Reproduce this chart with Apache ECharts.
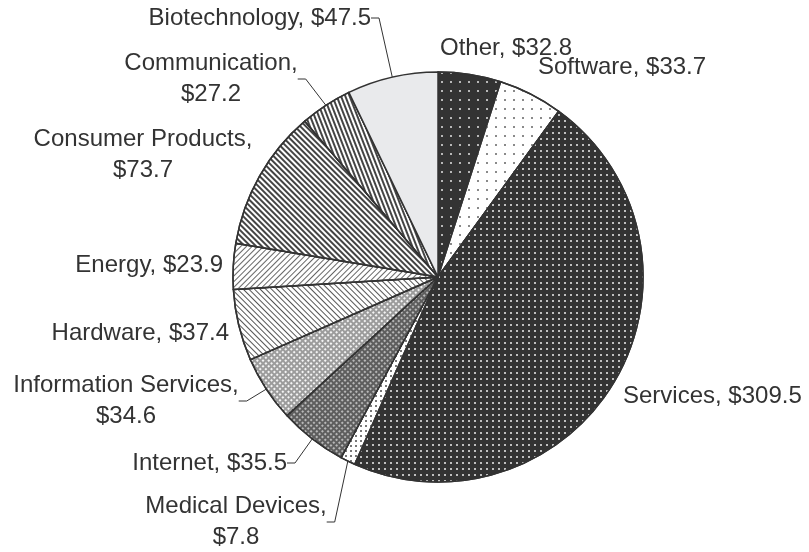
<!DOCTYPE html>
<html>
<head>
<meta charset="utf-8">
<script src="https://cdn.jsdelivr.net/npm/echarts@6/dist/echarts.min.js"></script>
<style>
  html, body { margin: 0; padding: 0; background: #fff; }
  #myChart { width: 809px; height: 552px; }
</style>
</head>
<body>
<div id="myChart"></div>
<script>
  // sectors, clockwise from 12 o'clock
  var categories = ['Other', 'Software', 'Services', 'Medical Devices', 'Internet',
    'Information Services', 'Hardware', 'Energy', 'Consumer Products', 'Communication', 'Biotechnology'];
  var values = [32.8, 33.7, 309.5, 7.8, 35.5, 34.6, 37.4, 23.9, 73.7, 27.2, 47.5];
  // label text, some wrapped on two lines
  var labelTexts = ['Other, $32.8', 'Software, $33.7', 'Services, $309.5', 'Medical Devices,\n$7.8',
    'Internet, $35.5', 'Information Services,\n$34.6', 'Hardware, $37.4', 'Energy, $23.9',
    'Consumer Products,\n$73.7', 'Communication,\n$27.2', 'Biotechnology, $47.5'];

  // where each label sits (x, y, align) and whether it has a leader line
  var labelPos = [
    [440, 48, 'left'], [538, 67, 'left'], [623, 396, 'left'], [236, 522, 'center'],
    [287, 463, 'right'], [126, 401, 'center'], [229, 333, 'right'], [223, 265, 'right'],
    [143, 155, 'center'], [211, 79, 'center'], [371, 18, 'right']
  ];
  var withLine = [false, false, false, true, true, true, false, false, false, true, true];

  // fills: base colour + hatch / dot pattern
  var fills = [
    { color: '#333333', decal: { symbol: 'rect', color: '#b8b8b8', dashArrayX: [1.4, 6.6], dashArrayY: [1.4, 6.6] } },
    { color: '#ffffff', decal: { symbol: 'rect', color: '#8a8a8a', dashArrayX: [1.4, 6.6], dashArrayY: [1.4, 6.6] } },
    { color: '#333333', decal: { symbol: 'rect', color: '#c0c0c0', dashArrayX: [1.5, 3.8], dashArrayY: [1.5, 3.8] } },
    { color: '#ffffff', decal: { symbol: 'rect', color: '#777777', dashArrayX: [1.5, 2.5], dashArrayY: [1.5, 2.5] } },
    { color: '#5e5e5e', decal: { symbol: 'rect', color: '#b8b8b8', dashArrayX: [1.5, 2], dashArrayY: [1.5, 2], rotation: Math.PI / 4 } },
    { color: '#9c9c9c', decal: { symbol: 'rect', color: '#f4f4f4', dashArrayX: [1.5, 2], dashArrayY: [1.5, 2], rotation: Math.PI / 4 } },
    { color: '#ffffff', decal: { symbol: 'rect', color: '#555555', dashArrayX: [1, 0], dashArrayY: [1, 3], rotation: Math.PI / 4 } },
    { color: '#ffffff', decal: { symbol: 'rect', color: '#666666', dashArrayX: [1, 0], dashArrayY: [1, 2.5], rotation: -Math.PI / 4 } },
    { color: '#ffffff', decal: { symbol: 'rect', color: '#444444', dashArrayX: [1, 0], dashArrayY: [1.6, 1.6], rotation: Math.PI / 4 } },
    { color: '#ffffff', decal: { symbol: 'rect', color: '#444444', dashArrayX: [1, 0], dashArrayY: [1.6, 1.6], rotation: 1.2 } },
    { color: '#e9eaec', decal: null }
  ];

  var pieData = [];
  for (var i = 0; i < categories.length; i++) {
    var item = {
      name: categories[i],
      value: values[i],
      label: { formatter: labelTexts[i] },
      labelLine: { show: withLine[i] },
      itemStyle: { color: fills[i].color }
    };
    if (fills[i].decal) {
      item.itemStyle.decal = fills[i].decal;
    }
    pieData.push(item);
  }

  var option = {
    backgroundColor: '#ffffff',
    animation: false,
    series: [
      {
        type: 'pie',
        center: [438, 277],
        radius: 205,
        startAngle: 90,
        clockwise: true,
        avoidLabelOverlap: false,
        itemStyle: { borderColor: '#333333', borderWidth: 1.5 },
        label: {
          show: true,
          position: 'outside',
          color: '#333333',
          fontSize: 24,
          lineHeight: 31,
          fontFamily: 'Liberation Sans, Arial, sans-serif'
        },
        labelLine: {
          length: 8,
          length2: 8,
          lineStyle: { color: '#333333', width: 1 }
        },
        labelLayout: function (params) {
          var p = labelPos[params.dataIndex];
          return { x: p[0], y: p[1], align: p[2], verticalAlign: 'middle' };
        },
        emphasis: { disabled: true },
        data: pieData
      }
    ]
  };

  var myChart = echarts.init(document.getElementById('myChart'));
  myChart.setOption(option);
</script>
</body>
</html>
